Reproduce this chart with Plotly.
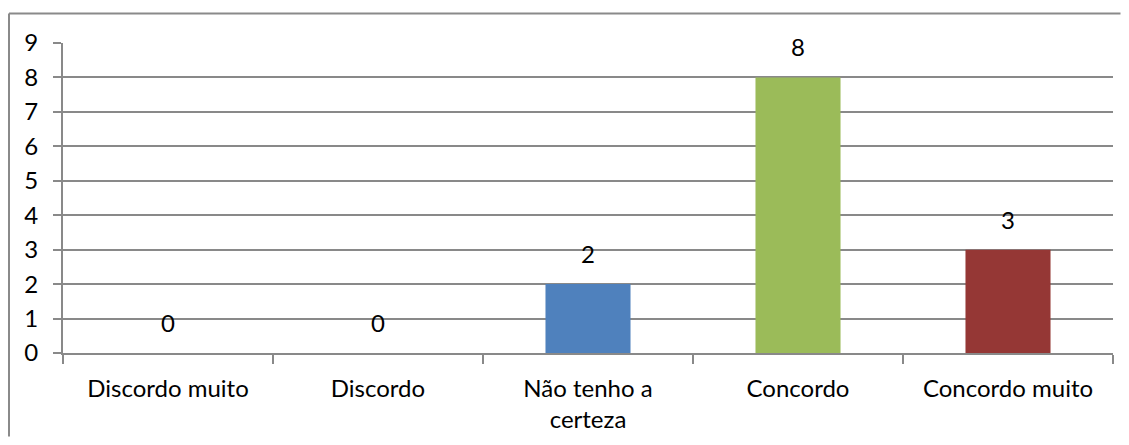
import plotly.graph_objects as go

categories = ["Discordo muito", "Discordo", "Não tenho a<br>certeza", "Concordo", "Concordo muito"]
values = [0, 0, 2, 8, 3]
colors = ["#4F81BD", "#4F81BD", "#4F81BD", "#9BBB59", "#953735"]

FONT = "Lato, Carlito, 'Noto Sans', sans-serif"
GRID = "#898989"
FRAME = "#8a8a8a"
FS = 24

fig = go.Figure()
fig.add_trace(go.Bar(x=categories, y=values, marker=dict(color=colors, line=dict(width=0)),
                     showlegend=False, hoverinfo="skip"))

for c, v in zip(categories, values):
    fig.add_annotation(x=c, y=v, text=str(v), showarrow=False, yanchor="bottom",
                       yshift=14, font=dict(family=FONT, size=FS, color="#000000"))

# frame lines kept inside the figure so the page does not overflow
fx0 = -54.0 / 1050
fx1 = 1.0 + 7.5 / 1050
fy1 = (310 + 29.5) / 310
fy0 = -83.5 / 310

fig.update_layout(
    width=1113, height=429,
    margin=dict(l=55, r=8, t=35, b=84, autoexpand=False),
    paper_bgcolor="white", plot_bgcolor="white",
    bargap=0.595,
    font=dict(family=FONT, size=FS, color="#000000"),
    xaxis=dict(type="category", showgrid=False, showline=True, linecolor=GRID, linewidth=2,
               ticks="outside", tickson="boundaries", ticklen=9, tickcolor=GRID, tickwidth=2,
               ticklabelstandoff=13, automargin=False,
               tickfont=dict(family=FONT, size=FS, color="#000000")),
    yaxis=dict(range=[0, 9], dtick=1, showgrid=True, gridcolor=GRID, gridwidth=2,
               showline=True, linecolor=GRID, linewidth=2, zeroline=False,
               ticks="outside", ticklen=8, tickcolor=GRID, tickwidth=2,
               ticklabelstandoff=10, automargin=False,
               tickfont=dict(family=FONT, size=FS, color="#000000")),
    shapes=[
        dict(type="line", xref="paper", yref="paper", x0=fx0, x1=fx1, y0=fy1, y1=fy1,
             line=dict(color=FRAME, width=2), layer="below"),
        dict(type="line", xref="paper", yref="paper", x0=fx0, x1=fx0, y0=fy0, y1=fy1,
             line=dict(color=FRAME, width=2), layer="below"),
    ],
)

fig.write_html("out.html")
